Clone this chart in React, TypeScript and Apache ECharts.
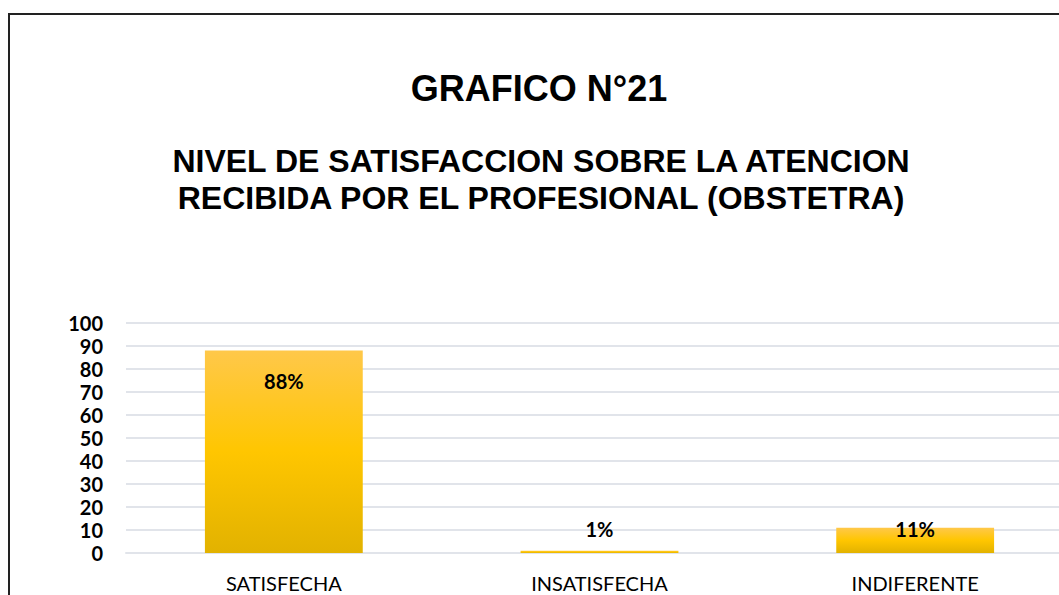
import React, { useEffect, useRef } from "react";
import * as echarts from "echarts";

const titleText = "GRAFICO N°21";
const subtitleLines = [
  "NIVEL DE SATISFACCION SOBRE LA ATENCION",
  "RECIBIDA POR EL PROFESIONAL (OBSTETRA)",
];
const categories = ["SATISFECHA", "INSATISFECHA", "INDIFERENTE"];
const values = [88, 1, 11];
const valueLabels = ["88%", "1%", "11%"];
const yTicks = { min: 0, max: 100, interval: 10 };

export default function App() {
  const ref = useRef<HTMLDivElement>(null);
  useEffect(() => {
    if (!ref.current) return;
    const chart = echarts.init(ref.current, null, { renderer: "svg" });
    const barGradient = new echarts.graphic.LinearGradient(0, 0, 0, 1, [
      { offset: 0, color: "#FFC84A" },
      { offset: 0.5, color: "#FFC600" },
      { offset: 1, color: "#E2B200" },
    ]);
    const labelCfg = [
      { position: "insideTop", distance: 20, offset: [0, 0] },
      { position: "top", distance: 12, offset: [0, 0] },
      { position: "top", distance: 0, offset: [0, 11] },
    ];
    chart.setOption({
      animation: false,
      backgroundColor: "#ffffff",
      graphic: [
        {
          type: "rect",
          shape: { x: 9, y: 14, width: 1200, height: 700 },
          style: { fill: "none", stroke: "#222222", lineWidth: 2 },
          silent: true,
        },
        {
          type: "text",
          x: 539,
          y: 88,
          style: {
            text: titleText,
            font: "bold 36px 'Liberation Sans', Arial, sans-serif",
            fill: "#000000",
            textAlign: "center",
            textVerticalAlign: "middle",
          },
        },
        ...subtitleLines.map((t, i) => ({
          type: "text",
          x: 541,
          y: 161 + i * 37,
          style: {
            text: t,
            font: "bold 32px 'Liberation Sans', Arial, sans-serif",
            fill: "#000000",
            textAlign: "center",
            textVerticalAlign: "middle",
          },
        })),
      ],
      grid: { left: 126, right: 0, top: 323, bottom: 42, containLabel: false },
      xAxis: {
        type: "category",
        data: categories,
        axisLine: { show: true, lineStyle: { color: "#E1E4EA", width: 2 } },
        axisTick: { show: false },
        axisLabel: {
          color: "#000000",
          fontFamily: "Lato, 'Open Sans', sans-serif",
          fontSize: 20,
          margin: 20,
        },
      },
      yAxis: {
        type: "value",
        min: yTicks.min,
        max: yTicks.max,
        interval: yTicks.interval,
        axisLine: { show: false },
        axisTick: { show: false },
        splitLine: { lineStyle: { color: "#E1E4EA", width: 2 } },
        axisLabel: {
          color: "#000000",
          fontFamily: "Lato, 'Open Sans', sans-serif",
          fontWeight: "bold",
          fontSize: 20,
          margin: 23,
        },
      },
      series: [
        {
          type: "bar",
          barWidth: "50%",
          data: values.map((v, i) => ({
            value: v,
            itemStyle: { color: barGradient },
            label: {
              show: true,
              position: labelCfg[i].position,
              distance: labelCfg[i].distance,
              offset: labelCfg[i].offset,
              formatter: () => valueLabels[i],
              color: "#000000",
              fontFamily: "Lato, 'Open Sans', sans-serif",
              fontWeight: "bold",
              fontSize: 20,
            },
          })),
        },
      ],
    });
    return () => chart.dispose();
  }, []);
  return (
    <div
      style={{
        position: "absolute",
        left: 0,
        top: 0,
        width: 1059,
        height: 595,
        overflow: "hidden",
      }}
    >
      <div ref={ref} style={{ width: 1073, height: 595 }} />
    </div>
  );
}
